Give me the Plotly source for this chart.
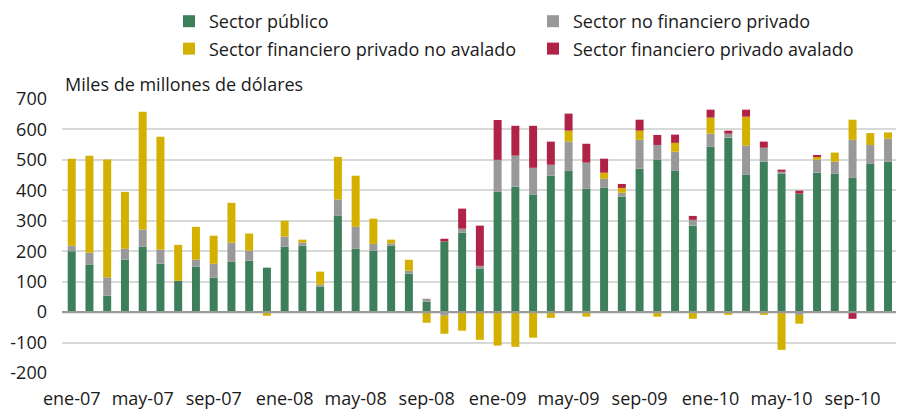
import plotly.graph_objects as go

months = ["ene", "feb", "mar", "abr", "may", "jun", "jul", "ago", "sep", "oct", "nov", "dic"]
categories = [f"{m}-{y:02d}" for y in range(7, 11) for m in months]

sector_publico = [200, 155, 54, 172, 215, 159, 103, 149, 113, 165, 169, 146,
                  215, 218, 83, 317, 208, 201, 218, 126, 34, 232, 261, 142,
                  395, 412, 386, 448, 464, 405, 408, 379, 471, 500, 464, 284,
                  543, 573, 451, 494, 454, 389, 458, 454, 441, 487, 494, 245]
sector_no_fin_priv = [18, 40, 60, 36, 56, 46, 0, 23, 46, 63, 33, 0,
                      33, 10, 7, 53, 72, 23, 7, 10, 10, -12, 13, 10,
                      105, 102, 88, 36, 96, 86, 30, 13, 95, 49, 63, 19,
                      43, 13, 96, 46, 7, -9, 43, 40, 125, 62, 76, 16]
sector_fin_no_aval = [286, 319, 387, 187, 387, 371, 118, 108, 92, 131, 56, -12,
                      52, 10, 43, 140, 168, 83, 13, 36, -35, -59, -61, -91,
                      -110, -114, -84, -19, 36, -15, 20, 16, 30, -15, 29, -22,
                      53, -9, 95, -9, -124, -29, 10, 30, 66, 39, 20, -4]
sector_fin_aval = [0, 0, 0, 0, 0, 0, 0, 0, 0, 0, 0, 0,
                   0, 0, 0, 0, 0, 0, 0, 0, 0, 9, 66, 132,
                   131, 98, 138, 76, 56, 62, 46, 13, 36, 33, 27, 13,
                   26, 10, 23, 20, 7, 10, 3, 0, -22, 0, 0, -38]

tick_labels = categories[::4]
y_tick_vals = [-200, -100, 0, 100, 200, 300, 400, 500, 600, 700]
y_tick_text = ["-200", "-100", "0", "100", "200", "300", "400", "500", "600", "700"]

FONT = "Open Sans"
TXT = "#1a1a1a"
W, H = 896, 402  # page body adds an 8px offset; figure fills the rest of the 904x410 window

series = [
    ("Sector público", sector_publico, "#3d7f5a", "legend", "g1"),
    ("Sector no financiero privado", sector_no_fin_priv, "#999999", "legend2", "g2"),
    ("Sector financiero privado no avalado", sector_fin_no_aval, "#d4b000", "legend", "g3"),
    ("Sector financiero privado avalado", sector_fin_aval, "#b02346", "legend2", "g4"),
]

fig = go.Figure()
for name, vals, color, leg, grp in series:
    fig.add_trace(go.Bar(
        x=categories, y=vals, name=name, marker=dict(color=color, line=dict(width=0)),
        legend=leg, legendgroup=grp, width=0.45,
    ))

legend_common = dict(
    orientation="v", xref="container", yref="container", yanchor="middle", xanchor="left",
    font=dict(family=FONT, size=18, color=TXT), traceorder="grouped",
    tracegroupgap=1, bgcolor="rgba(0,0,0,0)", itemwidth=30,
)
fig.update_layout(
    width=W, height=H,
    margin=dict(l=54, r=0, t=91, b=37, autoexpand=False),
    paper_bgcolor="white", plot_bgcolor="white",
    barmode="relative",
    font=dict(family=FONT, size=18, color=TXT),
    legend=dict(x=161 / W, y=1 - 27 / H, **legend_common),
    legend2=dict(x=525 / W, y=1 - 27 / H, **legend_common),
    title=dict(text="Miles de millones de dólares", xref="paper", x=3 / 842, xanchor="left",
               yref="container", y=1 - 76.5 / H, yanchor="middle",
               font=dict(family=FONT, size=18, color=TXT)),
    xaxis=dict(type="category", range=[-0.547, 46.9], tickmode="array",
               tickvals=tick_labels, ticktext=tick_labels, showgrid=False,
               showline=False, ticks="", ticklabelstandoff=13,
               tickfont=dict(family=FONT, size=18, color=TXT)),
    yaxis=dict(range=[-200, 700], tickmode="array", tickvals=y_tick_vals, ticktext=y_tick_text,
               showgrid=True, gridcolor="#d9d9d9",
               gridwidth=1.5, zeroline=False, showline=False, ticks="",
               ticklabelstandoff=14,
               tickfont=dict(family=FONT, size=18, color=TXT)),
    shapes=[dict(type="line", xref="paper", x0=0, x1=1, yref="y", y0=0, y1=0,
                 line=dict(color="#9a9a9a", width=2.4), layer="above")],
)

fig.write_html("out.html")
